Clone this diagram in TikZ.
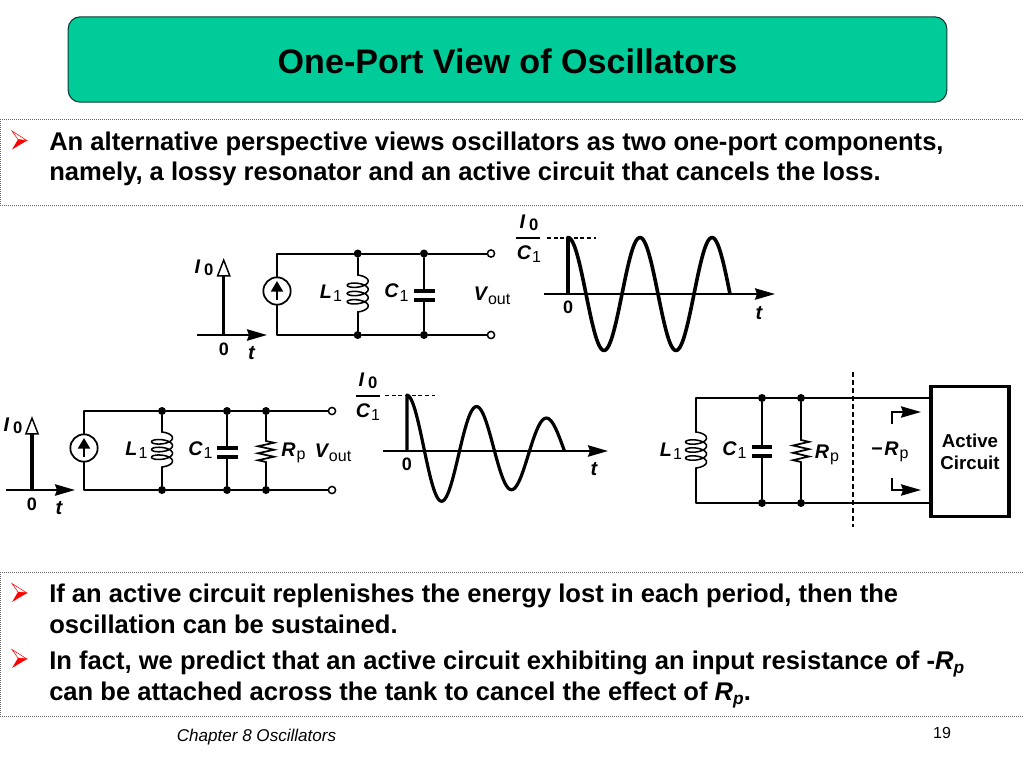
\documentclass[tikz,border=0pt]{standalone}
\usepackage{fontspec}
\setmainfont{Liberation Sans}
\usetikzlibrary{arrows.meta,calc}
\definecolor{titlegreen}{HTML}{00CC99}
\definecolor{titleedge}{HTML}{0B3B33}
\newcommand{\symb}[2]{{\bfseries\itshape #1}\hspace{0.8pt}\raisebox{-2.6pt}{\fontsize{12}{12}\selectfont #2}}
\newcommand{\izero}{{\bfseries\itshape I}\hspace{3pt}\raisebox{-1.5pt}{\fontsize{12.5}{12.5}\selectfont\bfseries 0}}
\newcommand{\coilpath}[3]{% cx, y0, y1
  \draw[coilwire] plot[domain=0:1260,samples=110,smooth] ({#1+10.5*sin(\x)},{#2+(\x/1260)*(#3-#2-8)+4-4*cos(\x)});}
\newcommand{\zigzag}[3]{% cx, y0, y1
  \draw[zigwire] (#1,#2)
    -- ++(8,{(#3-#2)/12}) -- ++(-16,{(#3-#2)/6}) -- ++(16,{(#3-#2)/6})
    -- ++(-16,{(#3-#2)/6}) -- ++(16,{(#3-#2)/6}) -- ++(-16,{(#3-#2)/6}) -- (#1,#3);}
\tikzset{
  x=0.75pt,y=-0.75pt,
  wire/.style={line width=1.5pt,line cap=round,line join=round},
  coilwire/.style={line width=1.15pt,line cap=round,line join=round},
  zigwire/.style={line width=1.3pt,line cap=round,line join=miter},
  thickwave/.style={line width=2.7pt,line join=round},
  thinwave/.style={line width=2.4pt,line join=round},
  jdot/.style={circle,fill=black,inner sep=0pt,minimum size=6pt},
  term/.style={circle,draw=black,fill=white,line width=1.1pt,inner sep=0pt,minimum size=5.4pt},
  src/.style={circle,draw=black,fill=white,line width=1.3pt,inner sep=0pt,minimum size=20.5pt},
  label/.style={inner sep=0pt,font=\fontsize{14.8}{14.8}\selectfont},
  body/.style={inner sep=0pt,anchor=base west,font=\bfseries\fontsize{19.19}{19.19}\selectfont},
  panel/.style={draw=black!60,densely dotted,line width=0.5pt},
  axisline/.style={line width=1.6pt,-{Stealth[length=15pt,width=8.5pt,inset=1.5pt]}},
  openarrow/.style={line width=2.4pt,-{Triangle[open,length=14pt,width=10.5pt,line width=1.1pt,fill=white]}},
  srcarrow/.style={line width=1.6pt,-{Triangle[length=8pt,width=9pt]}},
  bulletmark/.pic={
    \draw[red,line width=0.4pt,fill=white] (-8,-9.5) -- (7,0) -- (-2,-1) -- cycle;
    \fill[red] (-8,9) -- (7,0) -- (-2,-1) -- cycle;
  },
}
\begin{document}
\begin{tikzpicture}
\useasboundingbox (0,0) rectangle (1024,768);
% title and panels
\node[draw=titleedge,fill=titlegreen,rounded corners=9pt,line width=0.8pt,minimum width=659pt,minimum height=64pt,inner sep=0pt] (title) at (507.5,59.5) {};
\node[inner sep=0pt,font=\bfseries\fontsize{25.56}{25.56}\selectfont] (titletext) at (507.5,61) {One-Port View of Oscillators};
\node[panel,minimum width=768pt,minimum height=64.5pt,inner sep=0pt] (panelA) at (512.3,162) {};
\node[panel,minimum width=768pt,minimum height=108pt,inner sep=0pt] (panelB) at (512.3,644) {};
\pic at (20,140.5) {bulletmark};
\pic at (20,593) {bulletmark};
\pic at (20,659) {bulletmark};
\node[body] (t1) at (49,150) {An alternative perspective views oscillators as two one-port components,};
\node[body] (t2) at (49,180.5) {namely, a lossy resonator and an active circuit that cancels the loss.};
\node[body] (t3) at (49,602) {If an active circuit replenishes the energy lost in each period, then the};
\node[body] (t4) at (49,633) {oscillation can be sustained.};
\node[body] (t5) at (49,669) {In fact, we predict that an active circuit exhibiting an input resistance of -{\itshape R\raisebox{-3pt}{\fontsize{13}{13}\selectfont p}}};
\node[body] (t6) at (49,700) {can be attached across the tank to cancel the effect of {\itshape R\raisebox{-3pt}{\fontsize{13}{13}\selectfont p}}.};
\node[inner sep=0pt,font=\itshape\fontsize{12.8}{12.8}\selectfont] (chap) at (256.5,737) {Chapter 8 Oscillators};
\node[inner sep=0pt,font=\fontsize{12}{12}\selectfont] (pnum) at (942,733) {19};

% ---------- circuit 1
\coordinate (a1tl) at (277,253.5); \coordinate (a1bl) at (277,335);
\node[src] (a1s) at (277,291) {};
\node[jdot] (a1t1) at (357.7,253.5) {}; \node[jdot] (a1t2) at (424,253.5) {};
\node[jdot] (a1b1) at (357.7,335) {}; \node[jdot] (a1b2) at (424,335) {};
\node[term] (a1ot) at (491,253.5) {}; \node[term] (a1ob) at (491,335) {};
\draw[wire] (a1s.north) -- (a1tl) -- (a1t1) -- (a1t2) -- (a1ot);
\draw[wire] (a1s.south) -- (a1bl) -- (a1b1) -- (a1b2) -- (a1ob);
\draw[srcarrow] (277,300) -- (277,281);
\coordinate (a1lt) at (357.7,275); \coordinate (a1lb) at (357.7,312);
\draw[wire] (a1t1) -- (a1lt); \draw[wire] (a1lb) -- (a1b1);
\coilpath{357.7}{275}{312}
\coordinate (a1ct) at (424,291); \coordinate (a1cb) at (424,300);
\draw[wire] (a1t2) -- (a1ct); \draw[wire] (a1cb) -- (a1b2);
\draw[line width=2.4pt] (413.5,291) -- (435,291) (413.5,300) -- (435,300);
\node[label] (a1L) at (331,293) {\symb{L}{1}};
\node[label] (a1C) at (396.5,292.5) {\symb{C}{1}};
\node[label] (a1V) at (492,296) {\symb{V}{out}};
% stimulus 1
\coordinate (a1ax0) at (197,335); \coordinate (a1ax1) at (267,335);
\coordinate (a1y0) at (223.7,335); \coordinate (a1y1) at (223.7,258);
\draw[axisline] (a1ax0) -- (a1ax1);
\draw[openarrow] (a1y0) -- (a1y1);
\node[label] (a1I) at (204,268) {\izero};
\node[label,font=\bfseries\fontsize{13.5}{13.5}\selectfont] (a1z) at (224,349) {0};
\node[label,font=\bfseries\itshape\fontsize{15}{15}\selectfont] (a1t) at (251.5,353) {t};

% ---------- waveform 1
\coordinate (w1ax0) at (544,294); \coordinate (w1ax1) at (775,294);
\coordinate (w1o) at (568,294); \coordinate (w1top) at (568,238);
\coordinate (w1d0) at (547,238); \coordinate (w1d1) at (596,238);
\draw[axisline] (w1ax0) -- (w1ax1);
\draw[line width=1.5pt,dash pattern=on 3pt off 2pt] (w1d0) -- (w1d1);
\draw[thickwave] (w1o) -- (w1top) -- plot[domain=0:162,samples=120] ({568+\x},{294-56.5*cos(5*\x)});
\coordinate (w1f0) at (516,238); \coordinate (w1f1) at (540,238);
\draw[line width=1.5pt] (w1f0) -- (w1f1);
\node[label] (w1I) at (529,223) {\izero};
\node[label] (w1C) at (529,254) {\symb{C}{1}};
\node[label,font=\bfseries\fontsize{13.5}{13.5}\selectfont] (w1z) at (568,307) {0};
\node[label,font=\bfseries\itshape\fontsize{15}{15}\selectfont] (w1t) at (759,313) {t};

% ---------- circuit 2
\coordinate (b1tl) at (84,411); \coordinate (b1bl) at (84,490);
\node[src] (b1s) at (84,448) {};
\node[jdot] (b1t1) at (162,411) {}; \node[jdot] (b1t2) at (227,411) {}; \node[jdot] (b1t3) at (266,411) {};
\node[jdot] (b1b1) at (162,490) {}; \node[jdot] (b1b2) at (227,490) {}; \node[jdot] (b1b3) at (266,490) {};
\node[term] (b1ot) at (332,411) {}; \node[term] (b1ob) at (332,490) {};
\draw[wire] (b1s.north) -- (b1tl) -- (b1t1) -- (b1t2) -- (b1t3) -- (b1ot);
\draw[wire] (b1s.south) -- (b1bl) -- (b1b1) -- (b1b2) -- (b1b3) -- (b1ob);
\draw[srcarrow] (84,457) -- (84,438);
\coordinate (b1lt) at (162,432); \coordinate (b1lb) at (162,467);
\draw[wire] (b1t1) -- (b1lt); \draw[wire] (b1lb) -- (b1b1);
\coilpath{162}{432}{467}
\coordinate (b1ct) at (227,448); \coordinate (b1cb) at (227,457);
\draw[wire] (b1t2) -- (b1ct); \draw[wire] (b1cb) -- (b1b2);
\draw[line width=2.4pt] (217,448) -- (237.5,448) (217,457) -- (237.5,457);
\coordinate (b1rt) at (266,441); \coordinate (b1rb) at (266,462);
\draw[wire] (b1t3) -- (b1rt); \draw[wire] (b1rb) -- (b1b3);
\zigzag{266}{441}{462}
\node[label] (b1L) at (136.5,450) {\symb{L}{1}};
\node[label] (b1C) at (200.5,450) {\symb{C}{1}};
\node[label] (b1R) at (293.5,453) {\symb{R}{p}};
\node[label] (b1V) at (333,453) {\symb{V}{out}};
\coordinate (b1ax0) at (6,490); \coordinate (b1ax1) at (75,490);
\coordinate (b1y0) at (32,490); \coordinate (b1y1) at (32,416);
\draw[axisline] (b1ax0) -- (b1ax1);
\draw[openarrow] (b1y0) -- (b1y1);
\node[label] (b1I) at (13,426) {\izero};
\node[label,font=\bfseries\fontsize{13.5}{13.5}\selectfont] (b1z) at (32,504) {0};
\node[label,font=\bfseries\itshape\fontsize{15}{15}\selectfont] (b1t) at (59,508) {t};

% ---------- waveform 2
\coordinate (w2ax0) at (383,451); \coordinate (w2ax1) at (608,451);
\coordinate (w2o) at (407,451); \coordinate (w2top) at (407,395);
\coordinate (w2d0) at (385,395.5); \coordinate (w2d1) at (435,395.5);
\draw[axisline] (w2ax0) -- (w2ax1);
\draw[line width=1.3pt,dash pattern=on 3pt off 2pt] (w2d0) -- (w2d1);
\draw[thinwave] (w2o) -- (w2top) -- plot[domain=0:157.5,samples=120] ({407+\x},{451-(56-0.165*\x)*cos(360/70*\x)});
\coordinate (w2f0) at (356,395.5); \coordinate (w2f1) at (380,395.5);
\draw[line width=1.5pt] (w2f0) -- (w2f1);
\node[label] (w2I) at (368,381) {\izero};
\node[label] (w2C) at (368,412) {\symb{C}{1}};
\node[label,font=\bfseries\fontsize{13.5}{13.5}\selectfont] (w2z) at (407,464) {0};
\node[label,font=\bfseries\itshape\fontsize{15}{15}\selectfont] (w2t) at (594,469) {t};

% ---------- circuit 3
\node[draw=black,line width=2.4pt,minimum width=58.5pt,minimum height=98pt,inner sep=0pt,align=center,font=\bfseries\fontsize{14}{16.5}\selectfont] (act) at (970,451.5) {Active\\Circuit};
\coordinate (c1tl) at (696,398); \coordinate (c1bl) at (696,503);
\coordinate (c1tr) at (act.west |- c1tl); \coordinate (c1br) at (act.west |- c1bl);
\node[jdot] (c1t2) at (762,398) {}; \node[jdot] (c1t3) at (801,398) {};
\node[jdot] (c1b2) at (762,503) {}; \node[jdot] (c1b3) at (801,503) {};
\coordinate (c1lt) at (696,432); \coordinate (c1lb) at (696,468);
\draw[wire] (c1lt) -- (c1tl) -- (c1t2) -- (c1t3) -- (c1tr);
\draw[wire] (c1lb) -- (c1bl) -- (c1b2) -- (c1b3) -- (c1br);
\coilpath{696}{432}{468}
\coordinate (c1ct) at (762,447); \coordinate (c1cb) at (762,456);
\draw[wire] (c1t2) -- (c1ct); \draw[wire] (c1cb) -- (c1b2);
\draw[line width=2.4pt] (752,447) -- (772,447) (752,456) -- (772,456);
\coordinate (c1rt) at (801,440); \coordinate (c1rb) at (801,462);
\draw[wire] (c1t3) -- (c1rt); \draw[wire] (c1rb) -- (c1b3);
\zigzag{801}{440}{462}
\coordinate (c1d0) at (853,372); \coordinate (c1d1) at (853,527);
\draw[line width=1.5pt,dash pattern=on 3.5pt off 2.5pt] (c1d0) -- (c1d1);
\coordinate (c1p0) at (892,424); \coordinate (c1p1) at (892,412); \coordinate (c1p2) at (921,412);
\coordinate (c1q0) at (892,478); \coordinate (c1q1) at (892,490); \coordinate (c1q2) at (921,490);
\draw[line width=1.2pt,-{Stealth[length=15pt,width=8.5pt,inset=1.5pt]}] (c1p0) -- (c1p1) -- (c1p2);
\draw[line width=1.2pt,-{Stealth[length=15pt,width=8.5pt,inset=1.5pt]}] (c1q0) -- (c1q1) -- (c1q2);
\node[label] (c1L) at (671,451) {\symb{L}{1}};
\node[label] (c1C) at (734.5,450) {\symb{C}{1}};
\node[label] (c1R) at (827,455) {\symb{R}{p}};
\node[label] (c1N) at (890,452) {{\bfseries−\hspace{1pt}}\symb{R}{p}};
\end{tikzpicture}
\end{document}
